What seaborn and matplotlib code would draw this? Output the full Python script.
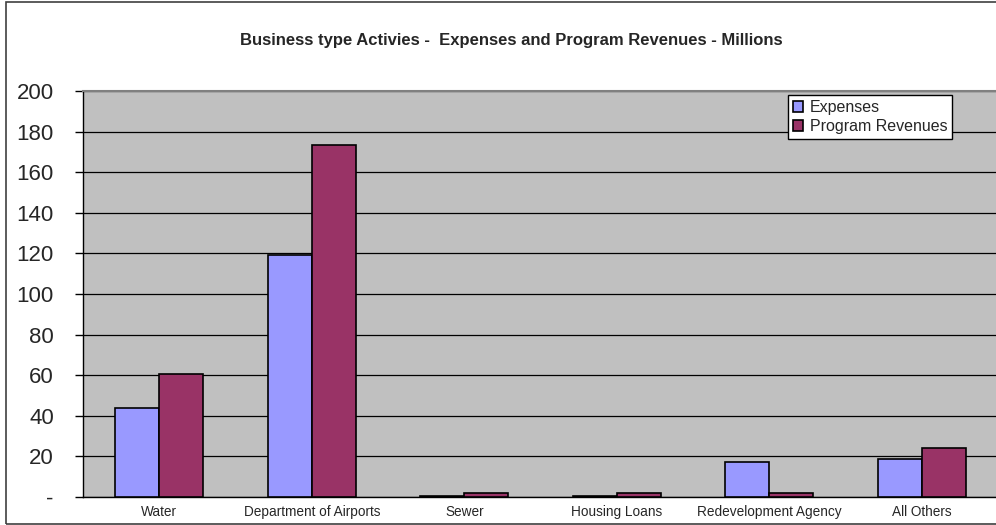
import pandas as pd
import seaborn as sns
import matplotlib.pyplot as plt
from matplotlib.patches import Rectangle

# values (millions)
categories = ["Water", "Department of Airports", "Sewer", "Housing Loans",
              "Redevelopment Agency", "All Others"]
expenses = [44, 119.3, 0.5, 0.5, 17.2, 18.7]
revenues = [60.6, 173.4, 2, 2, 2, 24.1]
series = ["Expenses", "Program Revenues"]

df = pd.DataFrame({
    "Category": categories * 2,
    "Series": [series[0]] * len(categories) + [series[1]] * len(categories),
    "Value": expenses + revenues,
})

sns.set_style("white")
plt.rcParams['font.family'] = ['Liberation Sans', 'DejaVu Sans']

fig = plt.figure(figsize=(9.96, 5.25), dpi=100)
ax = fig.add_axes([83 / 996, 1 - 497 / 525, 915 / 996, 406 / 525])
ax.set_facecolor("#C0C0C0")

sns.barplot(data=df, x="Category", y="Value", hue="Series", ax=ax,
            palette=["#9999FF", "#993366"], width=0.58, gap=0,
            edgecolor="black", linewidth=1.2, saturation=1, zorder=3)

ax.set_ylim(0, 200)
ax.set_xlim(-0.5, len(categories) - 0.5)
ax.set_yticks(range(0, 201, 20))
ax.set_yticklabels(["-"] + [str(v) for v in range(20, 201, 20)], fontsize=16)
ax.yaxis.grid(True, color="black", linewidth=0.9, zorder=1)
ax.set_axisbelow(True)

# category labels centred, ticks between categories
ax.set_xticks(range(len(categories)))
ax.set_xticklabels(categories, fontsize=9.8)
ax.tick_params(axis="x", length=0, pad=6)
ax.set_xticks([i + 0.5 for i in range(len(categories) - 1)], minor=True)
ax.tick_params(axis="x", which="minor", length=4, direction="out", color="black", width=1)
ax.tick_params(axis="y", length=6, direction="out", color="black", width=1, left=True, pad=15)

ax.set_xlabel("")
ax.set_ylabel("")
for s in ["left", "bottom"]:
    ax.spines[s].set_color("black")
    ax.spines[s].set_linewidth(1)
ax.spines["top"].set_color("#808080")
ax.spines["top"].set_linewidth(1.5)
ax.spines["right"].set_visible(False)

leg = ax.legend(loc="upper left", bbox_to_anchor=((788 - 83) / 915, (497 - 95) / 406),
                fontsize=11.5, frameon=True, fancybox=False, edgecolor="black",
                framealpha=1, handlelength=0.65, handleheight=0.65, handletextpad=0.4,
                borderpad=0.3, labelspacing=0.25, borderaxespad=0)
leg.get_frame().set_linewidth(1)
leg.get_frame().set_facecolor("white")

fig.text(511 / 996, 1 - 41 / 525,
         "Business type Activies -  Expenses and Program Revenues - Millions",
         ha="center", va="center", fontsize=12, fontweight="bold")

# chart border
fig.patches.append(Rectangle((6 / 996, 1 / 525), 1, 1 - 3 / 525,
                             transform=fig.transFigure, fill=False,
                             edgecolor="#404040", linewidth=1.2))

fig.savefig("out.png", dpi=100)
